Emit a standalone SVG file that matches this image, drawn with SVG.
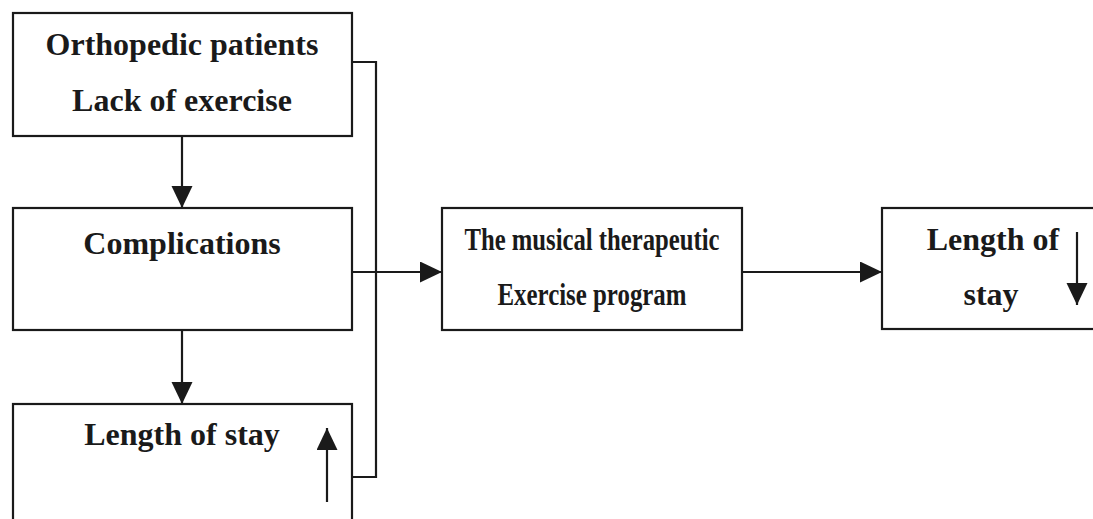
<svg xmlns="http://www.w3.org/2000/svg" width="1093" height="519" viewBox="0 0 1093 519">
<defs>
<style>
.box{fill:#fff;stroke:#1a1a1a;stroke-width:2.2}
.ln{fill:none;stroke:#1a1a1a;stroke-width:2.2}
.t{font-family:"Liberation Serif","Times New Roman",serif;font-weight:bold;font-size:32px;fill:#1a1a1a;text-anchor:middle}
</style>
<marker id="ah" markerUnits="userSpaceOnUse" markerWidth="24" markerHeight="22" refX="22" refY="10.5" orient="auto">
<path d="M0,0 L22,10.5 L0,21 Z" fill="#1a1a1a"/>
</marker>
</defs>
<rect width="1093" height="519" fill="#fff"/>
<g id="connectors">
<line class="ln" x1="182" y1="137" x2="182" y2="208" marker-end="url(#ah)"/>
<line class="ln" x1="182" y1="331" x2="182" y2="404" marker-end="url(#ah)"/>
<polyline class="ln" points="352,62 376,62 376,477 352,477"/>
<line class="ln" x1="352" y1="272" x2="442" y2="272" marker-end="url(#ah)"/>
<line class="ln" x1="742" y1="272" x2="882" y2="272" marker-end="url(#ah)"/>
</g>
<g id="n1">
<rect class="box" x="13" y="13" width="339" height="123"/>
<text class="t" x="182" y="55">Orthopedic patients</text>
<text class="t" x="182" y="111">Lack of exercise</text>
</g>
<g id="n2">
<rect class="box" x="13" y="208" width="339" height="122"/>
<text class="t" x="182" y="254">Complications</text>
</g>
<g id="n3">
<rect class="box" x="13" y="404" width="339" height="130"/>
<text class="t" x="182" y="445">Length of stay</text>
<line class="ln" x1="327" y1="502" x2="327" y2="428" marker-end="url(#ah)"/>
</g>
<g id="n4">
<rect class="box" x="442" y="208" width="300" height="122"/>
<text class="t" x="592" y="250" textLength="255" lengthAdjust="spacingAndGlyphs">The musical therapeutic</text>
<text class="t" x="592" y="305" textLength="189" lengthAdjust="spacingAndGlyphs">Exercise program</text>
</g>
<g id="n5">
<rect class="box" x="882" y="208" width="230" height="121"/>
<text class="t" x="993" y="250">Length of</text>
<text class="t" x="991" y="305">stay</text>
<line class="ln" x1="1077" y1="232" x2="1077" y2="305" marker-end="url(#ah)"/>
</g>
</svg>
